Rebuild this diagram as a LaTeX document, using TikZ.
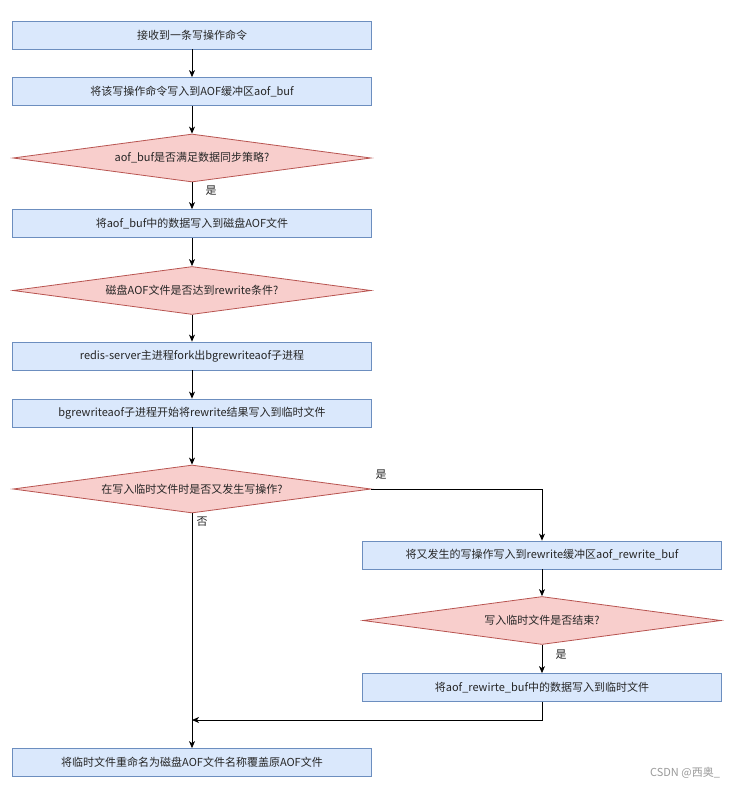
\documentclass[tikz,border=0pt]{standalone}
\usepackage{fontspec}
\setmainfont{Noto Sans CJK SC}
\usetikzlibrary{arrows.meta,shapes.geometric}
\definecolor{boxfill}{HTML}{DAE8FC}
\definecolor{boxline}{HTML}{6C8EBF}
\definecolor{dfill}{HTML}{F8CECC}
\definecolor{dline}{HTML}{B85450}
\definecolor{wm}{HTML}{9A9A9A}
\tikzset{
  x=1pt,y=-1pt,
  procbox/.style={draw=boxline,fill=boxfill,line width=0.8pt,minimum width=359pt,minimum height=28pt,inner sep=0pt,font=\fontsize{11}{13}\selectfont,text=black!85},
  decision/.style={draw=dline,fill=dfill,line width=0.8pt,diamond,aspect=7.5,minimum width=358pt,minimum height=48pt,inner sep=0pt,font=\fontsize{11}{13}\selectfont,text=black!85},
  flow/.style={draw=black,line width=0.8pt,-{Stealth[length=7pt,width=6pt,inset=2pt]}},
  lbl/.style={font=\fontsize{11}{13}\selectfont,text=black!85,inner sep=0pt}
}
\begin{document}
\begin{tikzpicture}
\useasboundingbox (0,0) rectangle (742,788);
\fill[white] (0,0) rectangle (742,788);
% left column
\node[procbox] (b1) at (192,35) {接收到一条写操作命令};
\node[procbox] (b2) at (192,91.5) {将该写操作命令写入到AOF缓冲区aof\_buf};
\node[decision,minimum height=48pt] (d1) at (192,158) {aof\_buf是否满足数据同步策略?};
\node[procbox] (b3) at (192,223.5) {将aof\_buf中的数据写入到磁盘AOF文件};
\node[decision] (d2) at (192,290.5) {磁盘AOF文件是否达到rewrite条件?};
\node[procbox] (b4) at (192,356) {redis-server主进程fork出bgrewriteaof子进程};
\node[procbox] (b5) at (192,413) {bgrewriteaof子进程开始将rewrite结果写入到临时文件};
\node[decision] (d3) at (192,489) {在写入临时文件时是否又发生写操作?};
\node[procbox] (b8) at (192,762.5) {将临时文件重命名为磁盘AOF文件名称覆盖原AOF文件};
% right column
\node[procbox] (b6) at (542,555) {将又发生的写操作写入到rewrite缓冲区aof\_rewrite\_buf};
\node[decision] (d4) at (542,620.5) {写入临时文件是否结束?};
\node[procbox] (b7) at (542,687.5) {将aof\_rewirte\_buf中的数据写入到临时文件};
% connectors
\draw[flow] (b1) -- (b2);
\draw[flow] (b2) -- (d1);
\draw[flow] (d1) -- (b3);
\draw[flow] (b3) -- (d2);
\draw[flow] (d2) -- (b4);
\draw[flow] (b4) -- (b5);
\draw[flow] (b5) -- (d3);
\draw[flow] (d3) -- (b8);
\draw[flow] (d3.east) -| (b6.north);
\draw[flow] (b6) -- (d4);
\draw[flow] (d4) -- (b7);
\coordinate (m) at (192,720);
\draw[flow] (b7.south) |- (m);
% labels
\node[lbl] (l1) at (211,191) {是};
\node[lbl] (l2) at (381,475) {是};
\node[lbl] (l3) at (202,522) {否};
\node[lbl] (l4) at (561,655) {是};
\node[font=\fontsize{11}{13}\selectfont,text=wm,inner sep=0pt] (wmk) at (685,773) {CSDN @西奥\_};
\end{tikzpicture}
\end{document}
